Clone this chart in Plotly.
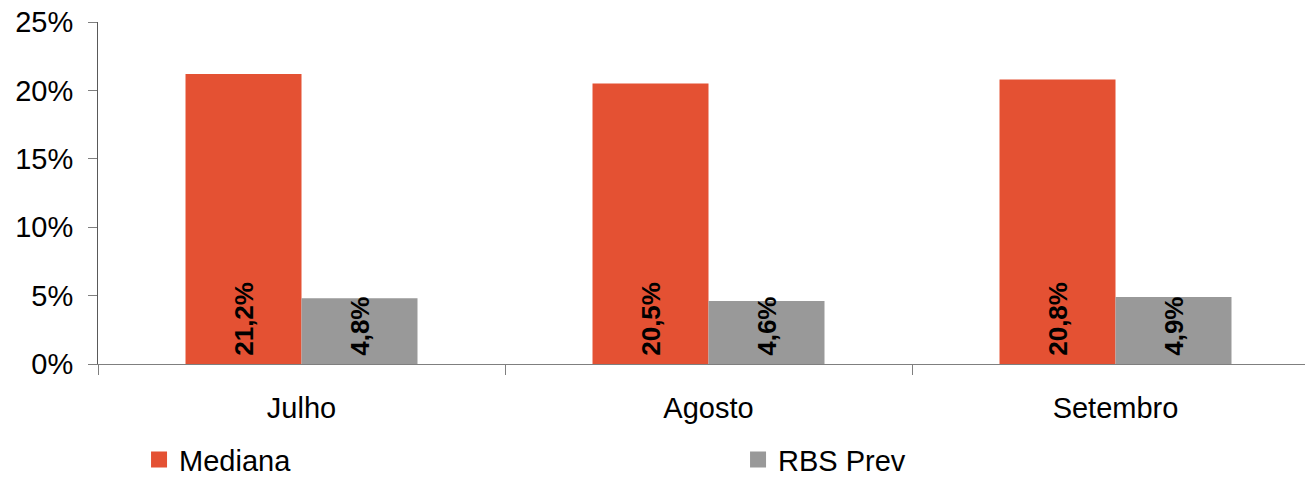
import plotly.graph_objects as go

# -- data
meses = ["Julho", "Agosto", "Setembro"]
mediana = [0.212, 0.205, 0.208]
rbs_prev = [0.048, 0.046, 0.049]

y_ticks = [0, 0.05, 0.10, 0.15, 0.20, 0.25]

laranja = "#E45133"
cinza = "#999999"
fonte = "Liberation Sans, Arial, sans-serif"

fig = go.Figure()
for nome, vals, cor in [("Mediana", mediana, laranja), ("RBS Prev", rbs_prev, cinza)]:
    fig.add_trace(go.Bar(
        x=meses, y=vals, name=nome, legendgroup=nome, showlegend=False,
        marker=dict(color=cor, line=dict(width=0)),
        texttemplate="\u2009<b>%{y:.1%}</b>",
        textposition="inside",
        insidetextanchor="start",
        textangle=-90,
        constraintext="none",
        textfont=dict(family=fonte, size=26, color="black"),
    ))
    # -- legend entry with a larger square symbol
    fig.add_trace(go.Scatter(
        x=[None], y=[None], name=nome, legendgroup=nome, mode="markers",
        marker=dict(symbol="square", size=17, color=cor),
    ))

fig.update_layout(
    width=1305, height=477,
    margin=dict(l=98, r=0, t=22, b=113, autoexpand=False),
    paper_bgcolor="white", plot_bgcolor="white",
    separators=",.",
    barmode="group", bargap=0.43, bargroupgap=0,
    font=dict(family=fonte, size=29, color="black"),
    showlegend=True,
    legend=dict(
        orientation="h", x=0.034, xanchor="left", y=-0.28, yanchor="middle",
        entrywidth=554, entrywidthmode="pixels", bgcolor="rgba(0,0,0,0)",
        font=dict(size=29), itemclick=False,
    ),
)
fig.update_xaxes(
    range=[-0.5, 2.4656],
    tickson="boundaries", ticks="outside", ticklen=10, tickcolor="#7f7f7f",
    showline=True, linecolor="#7f7f7f", linewidth=1,
    showgrid=False, ticklabelstandoff=18,
)
fig.update_yaxes(
    range=[0, 0.25], tickvals=y_ticks, tickformat=".0%",
    ticks="outside", ticklen=9, tickcolor="#7f7f7f",
    showline=True, linecolor="#595959", linewidth=1,
    showgrid=False, zeroline=False, ticklabelstandoff=9,
    ticklabeloverflow="allow",
)

# -- drop the default 8px body margin so the figure fills the window
fig.write_html("out.html", config={"displayModeBar": False},
               post_script="document.body.style.margin='0';")
